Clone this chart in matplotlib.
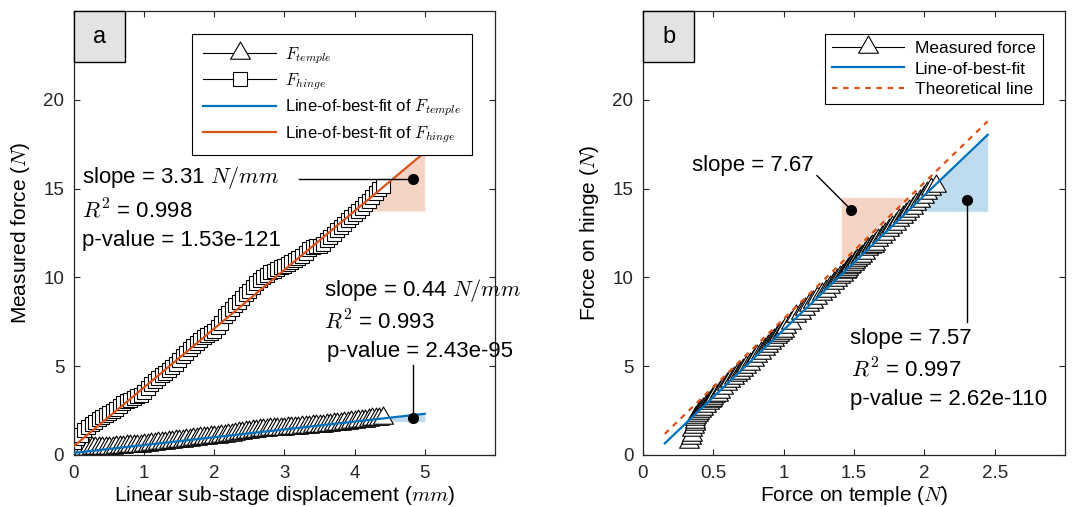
import matplotlib
matplotlib.use("Agg")
import matplotlib.pyplot as plt
import numpy as np
from matplotlib.path import Path
from matplotlib.patches import Rectangle

plt.rcParams['font.family'] = ['Liberation Sans', 'DejaVu Sans']
plt.rcParams['mathtext.fontset'] = 'cm'

displacement = [
    0.00, 0.05, 0.10, 0.15, 0.20, 0.25, 0.30, 0.35, 0.40, 0.45,
    0.50, 0.55, 0.60, 0.65, 0.70, 0.75, 0.80, 0.85, 0.90, 0.95,
    1.00, 1.05, 1.10, 1.15, 1.20, 1.25, 1.30, 1.35, 1.40, 1.45,
    1.50, 1.55, 1.60, 1.65, 1.70, 1.75, 1.80, 1.85, 1.90, 1.95,
    2.00, 2.05, 2.10, 2.15, 2.20, 2.25, 2.30, 2.35, 2.40, 2.45,
    2.50, 2.55, 2.60, 2.65, 2.70, 2.75, 2.80, 2.85, 2.90, 2.95,
    3.00, 3.05, 3.10, 3.15, 3.20, 3.25, 3.30, 3.35, 3.40, 3.45,
    3.50, 3.55, 3.60, 3.65, 3.70, 3.75, 3.80, 3.85, 3.90, 3.95,
    4.00, 4.05, 4.10, 4.15, 4.20, 4.25, 4.30, 4.35, 4.40]
f_hinge = [
    0.75, 0.95, 1.15, 1.38, 1.55, 1.74, 1.88, 2.02, 2.15, 2.24,
    2.34, 2.45, 2.60, 2.78, 2.92, 3.02, 3.10, 3.20, 3.30, 3.40,
    3.52, 3.75, 4.00, 4.15, 4.32, 4.48, 4.62, 4.78, 4.94, 5.15,
    5.35, 5.55, 5.75, 5.95, 6.14, 6.30, 6.47, 6.62, 6.74, 6.86,
    6.98, 7.18, 7.42, 7.80, 8.00, 8.20, 8.42, 8.62, 8.85, 9.05,
    9.25, 9.45, 9.68, 9.85, 10.00, 10.15, 10.28, 10.38, 10.47, 10.56,
    10.66, 10.78, 10.88, 11.00, 11.10, 11.22, 11.40, 11.62, 11.72, 11.75,
    11.78, 11.90, 12.08, 12.25, 12.45, 12.65, 12.85, 13.03, 13.22, 13.40,
    13.57, 13.74, 13.92, 14.12, 14.32, 14.52, 14.74, 14.98, 15.15]
f_temple = [
    0.33, 0.34, 0.35, 0.35, 0.36, 0.37, 0.37, 0.37, 0.38, 0.39,
    0.40, 0.41, 0.43, 0.45, 0.47, 0.48, 0.49, 0.50, 0.51, 0.53,
    0.55, 0.57, 0.60, 0.62, 0.65, 0.67, 0.69, 0.71, 0.73, 0.76,
    0.79, 0.81, 0.84, 0.87, 0.89, 0.91, 0.93, 0.95, 0.97, 0.99,
    1.00, 1.02, 1.05, 1.09, 1.12, 1.15, 1.18, 1.21, 1.24, 1.27,
    1.30, 1.33, 1.36, 1.38, 1.40, 1.42, 1.44, 1.45, 1.46, 1.47,
    1.48, 1.50, 1.51, 1.52, 1.54, 1.56, 1.58, 1.60, 1.62, 1.63,
    1.64, 1.65, 1.67, 1.70, 1.72, 1.75, 1.77, 1.80, 1.82, 1.85,
    1.87, 1.89, 1.92, 1.94, 1.97, 2.00, 2.02, 2.05, 2.08]

# Fits
hinge_slope, hinge_icpt = 3.31, 0.50
temple_slope, temple_icpt = 0.44, 0.12
fit_b_slope, fit_b_icpt = 7.57, -0.52
theory_slope = 7.67
fit_a_range = [0, 5]
fit_b_range = [0.155, 2.45]

blue = '#0072BD'
orange = '#D95319'

# triangle centred on its centroid (like the original markers)
tri = Path([(0, 1), (-0.866, -0.5), (0.866, -0.5), (0, 1)], closed=True)

fig = plt.figure(figsize=(10.72, 5.07), dpi=100)
ax1 = fig.add_axes([0.069, 0.1026, 0.3927, 0.8757])
ax2 = fig.add_axes([0.5998, 0.1026, 0.3937, 0.8757])


def style(ax, label):
    for s in ax.spines.values():
        s.set_color('#262626')
        s.set_linewidth(0.9)
    ax.tick_params(direction='in', top=True, right=True, length=4,
                   width=0.8, labelsize=13.5, colors='#262626', pad=7)
    ax.add_patch(Rectangle((0, 0.885), 0.121, 0.115, transform=ax.transAxes,
                           facecolor='#e3e3e3', edgecolor='k', lw=1,
                           zorder=6, clip_on=False))
    ax.text(0.0605, 0.9425, label, transform=ax.transAxes, ha='center',
            va='center', fontsize=17, zorder=7)


# ---------- panel a ----------
xa = np.array(fit_a_range)
yh = hinge_icpt + hinge_slope * xa
yt = temple_icpt + temple_slope * xa

# slope triangles
xs = np.array([4.0, 5.0])
ax1.fill_between(xs, hinge_icpt + hinge_slope * xs[0], hinge_icpt + hinge_slope * xs,
                 color=orange, alpha=0.25, lw=0, zorder=1)
ax1.fill_between(xs, temple_icpt + temple_slope * xs[0], temple_icpt + temple_slope * xs,
                 color=blue, alpha=0.25, lw=0, zorder=1)

h_t, = ax1.plot(displacement, f_temple, '-', color='k', lw=0.8, marker=tri,
                ms=16.5, mfc='white', mec='k', mew=0.8, zorder=2)
h_h, = ax1.plot(displacement, f_hinge, '-', color='k', lw=0.8, marker='s',
                ms=10, mfc='white', mec='k', mew=0.8, zorder=2)
l_t, = ax1.plot(xa, yt, color=blue, lw=1.6, zorder=3)
l_h, = ax1.plot(xa, yh, color=orange, lw=1.6, zorder=3)

ax1.plot([3.21, 4.83], [15.55, 15.55], 'k-', lw=1, zorder=4)
ax1.plot([4.83], [15.55], 'ko', ms=7, zorder=4)
ax1.plot([4.83, 4.83], [5.05, 2.06], 'k-', lw=1, zorder=4)
ax1.plot([4.83], [2.06], 'ko', ms=7, zorder=4)

ax1.text(0.12, 15.6, r'slope = 3.31 $N/mm$', fontsize=16, va='center')
ax1.text(0.12, 13.75, r'$R^2$ = 0.998', fontsize=16, va='center')
ax1.text(0.12, 12.05, 'p-value = 1.53e-121', fontsize=16, va='center')
ax1.text(3.56, 9.27, r'slope = 0.44 $N/mm$', fontsize=16, va='center')
ax1.text(3.57, 7.5, r'$R^2$ = 0.993', fontsize=16, va='center')
ax1.text(3.61, 5.8, 'p-value = 2.43e-95', fontsize=16, va='center')

ax1.set_xlim(0, 6)
ax1.set_ylim(0, 25)
ax1.set_xticks([0, 1, 2, 3, 4, 5])
ax1.set_yticks([0, 5, 10, 15, 20])
ax1.set_xlabel(r'Linear sub-stage displacement ($mm$)', fontsize=15, labelpad=2)
ax1.set_ylabel(r'Measured force ($N$)', fontsize=15, labelpad=8)
leg1 = ax1.legend([h_t, h_h, l_t, l_h],
                  [r'$F_{temple}$', r'$F_{hinge}$',
                   r'Line-of-best-fit of $F_{temple}$',
                   r'Line-of-best-fit of $F_{hinge}$'],
                  loc='upper right', bbox_to_anchor=(0.945, 0.9475),
                  borderaxespad=0, fontsize=12, numpoints=1, handlelength=4.4,
                  labelspacing=0.33, borderpad=0.65, fancybox=False,
                  framealpha=1, edgecolor='k', handletextpad=0.5)
leg1.get_frame().set_linewidth(0.8)
leg1.set_zorder(8)
style(ax1, 'a')

# ---------- panel b ----------
xb = np.array(fit_b_range)
yb = fit_b_icpt + fit_b_slope * xb
ytheo = theory_slope * xb

xo = np.array([1.41, 1.89])
ax2.fill_between(xo, theory_slope * xo, 14.51, color=orange, alpha=0.25, lw=0, zorder=1)
xbl = np.array([1.89, 2.45])
ax2.fill_between(xbl, 13.72, fit_b_icpt + fit_b_slope * xbl, color=blue,
                 alpha=0.25, lw=0, zorder=1)

m_b, = ax2.plot(f_temple, f_hinge, '-', color='k', lw=0.8, marker=tri,
                ms=16.5, mfc='white', mec='k', mew=0.8, zorder=2)
f_b, = ax2.plot(xb, yb, color=blue, lw=1.6, zorder=3)
t_b, = ax2.plot(xb, ytheo, color=orange, lw=1.6, ls=(0, (2.5, 2.5)), zorder=3)

ax2.plot([1.237, 1.48], [15.73, 13.8], 'k-', lw=1, zorder=4)
ax2.plot([1.48], [13.8], 'ko', ms=7, zorder=4)
ax2.plot([2.30, 2.30], [14.33, 7.5], 'k-', lw=1, zorder=4)
ax2.plot([2.30], [14.33], 'ko', ms=7, zorder=4)

ax2.text(0.35, 16.3, 'slope = 7.67', fontsize=16, va='center')
ax2.text(1.47, 6.55, 'slope = 7.57', fontsize=16, va='center')
ax2.text(1.48, 4.8, r'$R^2$ = 0.997', fontsize=16, va='center')
ax2.text(1.47, 3.1, 'p-value = 2.62e-110', fontsize=16, va='center')

ax2.set_xlim(0, 3)
ax2.set_ylim(0, 25)
ax2.set_xticks([0, 0.5, 1, 1.5, 2, 2.5])
ax2.set_xticklabels(['0', '0.5', '1', '1.5', '2', '2.5'])
ax2.set_yticks([0, 5, 10, 15, 20])
ax2.set_xlabel(r'Force on temple ($N$)', fontsize=15, labelpad=2)
ax2.set_ylabel(r'Force on hinge ($N$)', fontsize=15, labelpad=8)
leg2 = ax2.legend([m_b, f_b, t_b],
                  ['Measured force', 'Line-of-best-fit', 'Theoretical line'],
                  loc='upper right', bbox_to_anchor=(0.947, 0.948),
                  borderaxespad=0, fontsize=12.5, numpoints=1, handlelength=4.2,
                  labelspacing=0.3, fancybox=False, framealpha=1,
                  edgecolor='k', handletextpad=0.6, borderpad=0.4)
leg2.get_frame().set_linewidth(0.8)
leg2.set_zorder(8)
style(ax2, 'b')

fig.savefig('out.png', dpi=100)
